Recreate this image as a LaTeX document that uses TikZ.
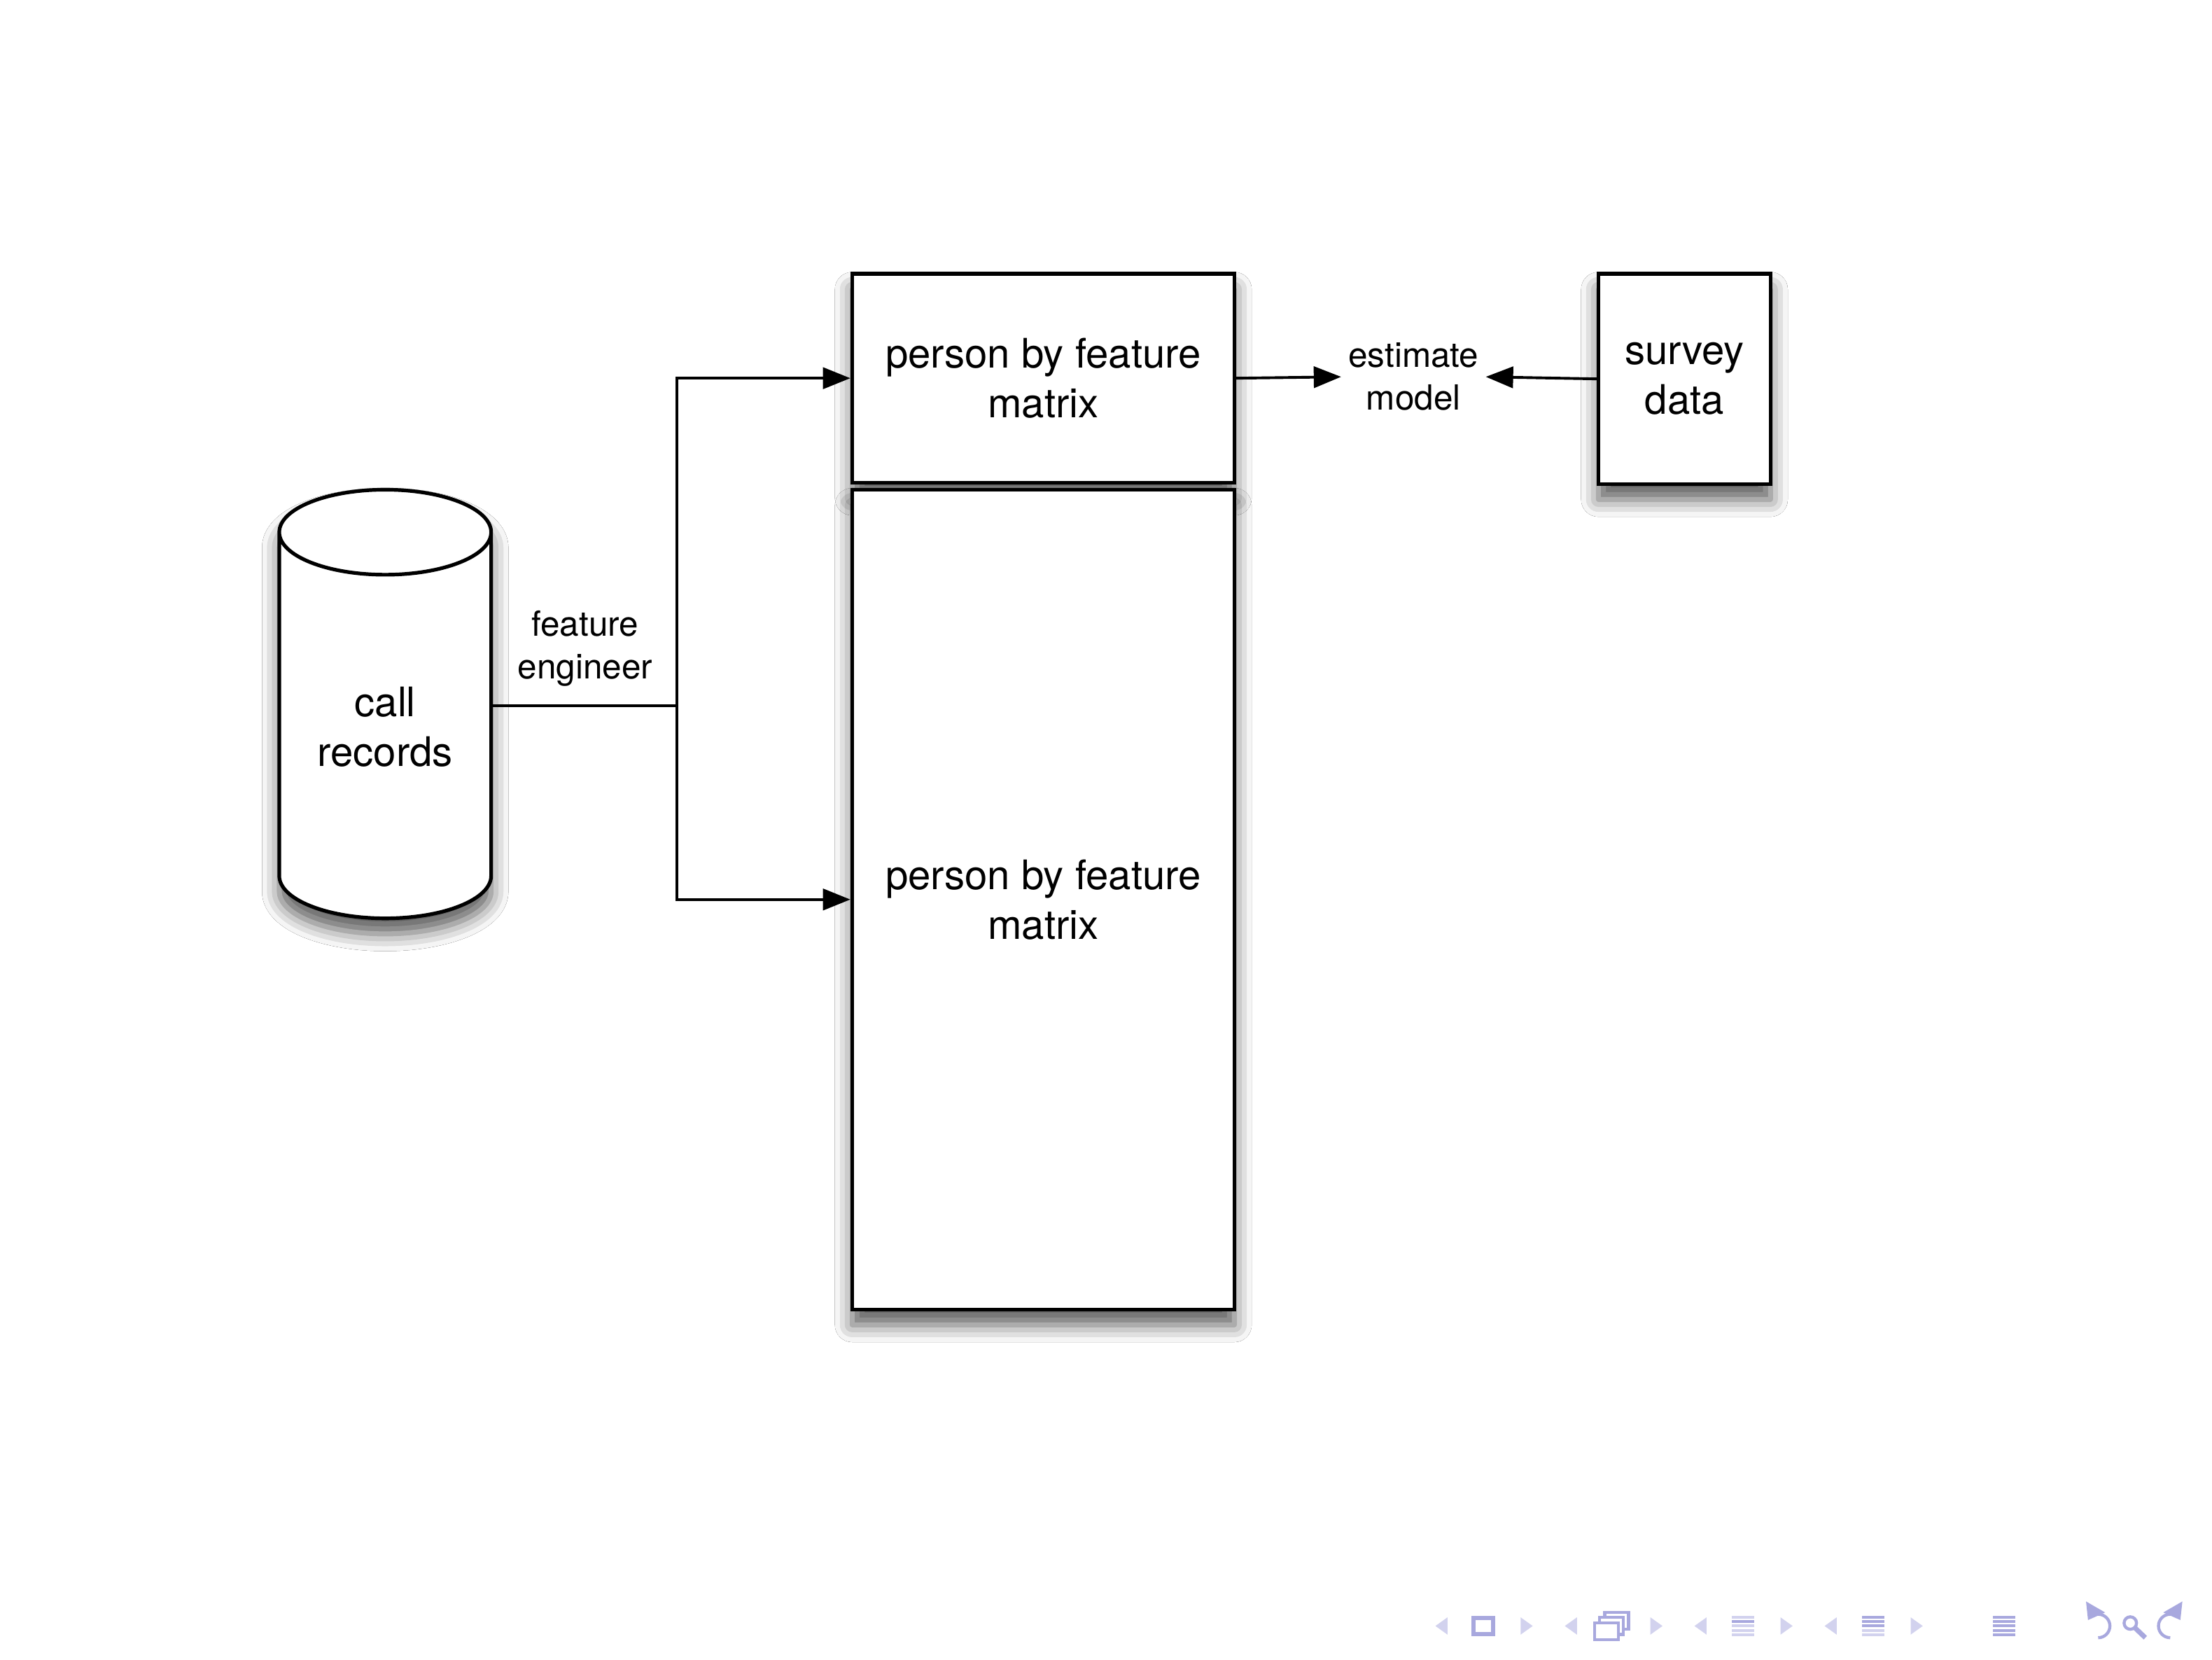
\documentclass[tikz,border=0pt]{standalone}
\usepackage{fontspec}
\setmainfont{TeX Gyre Heros}
\usepackage{tikz}
\usetikzlibrary{shapes.geometric, arrows.meta, positioning, shadows.blur}
\definecolor{navdark}{RGB}{168,168,222}
\definecolor{navlight}{RGB}{210,210,238}
\tikzset{
    softshadow/.style={blur shadow={shadow xshift=0pt, shadow yshift=-0.9mm, shadow blur radius=1mm, shadow opacity=65}},
    store/.style={cylinder, shape border rotate=90, shape aspect=2.1, draw, line width=0.6pt, fill=white, minimum width=1.226cm, minimum height=2.48cm, softshadow},
    box/.style={rectangle, draw, line width=0.6pt, fill=white, align=center, inner sep=0pt, font=\fontsize{6.7}{8.2}\selectfont, softshadow},
    txt/.style={align=center, inner sep=0pt, font=\fontsize{6.7}{8.2}\selectfont},
    lbl/.style={align=center, inner sep=1pt, font=\fontsize{5.7}{7}\selectfont},
    arrow/.style={-{Triangle[length=4.5pt, width=3.5pt]}, line width=0.45pt},
    link/.style={line width=0.45pt},
    navicon/.style={navdark, line width=0.5pt}
}
\begin{document}
\begin{tikzpicture}
    \useasboundingbox (0,0) rectangle (12.8,9.6);
    \fill[white] (0,0) rectangle (12.8,9.6);

    % Call records
    \node[store, anchor=shape center] (cyl) at (2.229, 5.527) {};
    \node[txt] (cyltxt) at (2.229, 5.396) {call\\records};

    % Matrices
    \node[box, minimum width=2.212cm, minimum height=1.208cm] (top) at (6.037, 7.412) {person by feature\\matrix};
    \node[box, minimum width=2.212cm, minimum height=4.742cm] (bot) at (6.037, 4.396) {person by feature\\matrix};

    % Survey and model
    \node[box, minimum width=0.996cm, minimum height=1.216cm] (survey) at (9.747, 7.408) {survey\\data};
    \node[lbl] (est) at (8.179, 7.420) {estimate\\model};

    % Connections
    \coordinate (split) at (3.918, 5.518);
    \draw[link] (cyl.east |- split) -- node[lbl, above=2pt] (fe) {feature\\engineer} (split);
    \draw[arrow] (split) |- (top.west);
    \draw[arrow] (split) |- (bot.west);
    \draw[arrow] (top.east) -- (est.west);
    \draw[arrow] (survey.west) -- (est.east);

    % Navigation symbols
    \foreach \x in {8.341, 9.090, 9.840, 10.593}
        \fill[navlight] (\x-0.035, 0.193) -- (\x+0.035, 0.243) -- (\x+0.035, 0.143) -- cycle;
    \foreach \x in {8.834, 9.585, 10.338, 11.091}
        \fill[navlight] (\x+0.035, 0.193) -- (\x-0.035, 0.243) -- (\x-0.035, 0.143) -- cycle;
    \draw[navicon, line width=0.7pt] (8.525, 0.145) rectangle (8.641, 0.241);
    \foreach \d in {0.06, 0.03, 0}
        \draw[navicon, fill=white] (9.226+\d, 0.114+\d) rectangle (9.364+\d, 0.212+\d);
    \foreach \y/\c in {0.243/navlight, 0.218/navdark, 0.193/navlight, 0.168/navlight, 0.143/navlight}
        \fill[\c] (10.022, \y-0.008) rectangle ++(0.13, 0.016);
    \foreach \y/\c in {0.243/navdark, 0.218/navdark, 0.193/navdark, 0.168/navlight, 0.143/navlight}
        \fill[\c] (10.775, \y-0.008) rectangle ++(0.13, 0.016);
    \foreach \y in {0.243, 0.218, 0.193, 0.168, 0.143}
        \fill[navdark] (11.533, \y-0.008) rectangle ++(0.13, 0.016);
    \draw[navicon, -{Triangle[length=2.5pt, width=3.5pt]}] (12.141, 0.125) arc[start angle=-90, end angle=150, radius=0.068];
    \draw[navicon] (12.327, 0.210) circle[radius=0.036];
    \draw[navicon, line width=0.8pt] (12.352, 0.184) -- (12.414, 0.125);
    \draw[navicon, -{Triangle[length=2.5pt, width=3.5pt]}] (12.558, 0.125) arc[start angle=270, end angle=30, radius=0.068];
\end{tikzpicture}
\end{document}
